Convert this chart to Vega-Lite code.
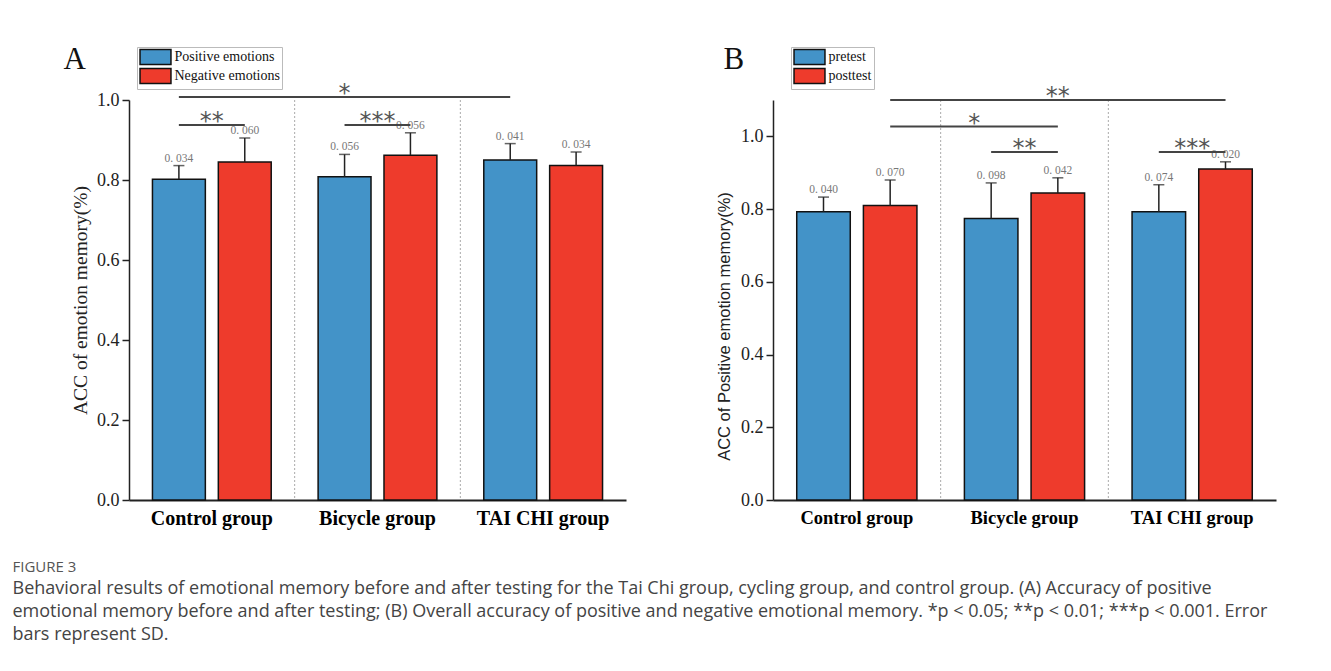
{
  "$schema": "https://vega.github.io/schema/vega-lite/v6.json",
  "background": "white",
  "padding": {"left": 12, "top": 43, "right": 5, "bottom": 5},
  "title": {
    "text": "FIGURE 3",
    "subtitle": [
      "Behavioral results of emotional memory before and after testing for the Tai Chi group, cycling group, and control group. (A) Accuracy of positive",
      "emotional memory before and after testing; (B) Overall accuracy of positive and negative emotional memory. *p < 0.05; **p < 0.01; ***p < 0.001. Error",
      "bars represent SD."
    ],
    "orient": "bottom",
    "anchor": "start",
    "frame": "bounds",
    "dx": -51,
    "offset": 32,
    "font": "Open Sans",
    "fontSize": 15,
    "fontWeight": "normal",
    "color": "#555",
    "subtitleFont": "Open Sans",
    "subtitleFontSize": 18,
    "subtitleColor": "#444",
    "subtitleLineHeight": 23,
    "subtitlePadding": 5
  },
  "datasets": {
    "a": [
      {"group": "Control group", "cond": "Positive emotions", "value": 0.802, "upper": 0.836, "sdLabel": "0. 034"},
      {"group": "Control group", "cond": "Negative emotions", "value": 0.845, "upper": 0.905, "sdLabel": "0. 060"},
      {"group": "Bicycle group", "cond": "Positive emotions", "value": 0.808, "upper": 0.864, "sdLabel": "0. 056"},
      {"group": "Bicycle group", "cond": "Negative emotions", "value": 0.862, "upper": 0.918, "sdLabel": "0. 056"},
      {"group": "TAI CHI group", "cond": "Positive emotions", "value": 0.850, "upper": 0.891, "sdLabel": "0. 041"},
      {"group": "TAI CHI group", "cond": "Negative emotions", "value": 0.836, "upper": 0.870, "sdLabel": "0. 034"}
    ],
    "b": [
      {"group": "Control group", "cond": "pretest", "value": 0.793, "upper": 0.833, "sdLabel": "0. 040"},
      {"group": "Control group", "cond": "posttest", "value": 0.810, "upper": 0.880, "sdLabel": "0. 070"},
      {"group": "Bicycle group", "cond": "pretest", "value": 0.774, "upper": 0.872, "sdLabel": "0. 098"},
      {"group": "Bicycle group", "cond": "posttest", "value": 0.844, "upper": 0.886, "sdLabel": "0. 042"},
      {"group": "TAI CHI group", "cond": "pretest", "value": 0.793, "upper": 0.867, "sdLabel": "0. 074"},
      {"group": "TAI CHI group", "cond": "posttest", "value": 0.910, "upper": 0.930, "sdLabel": "0. 020"}
    ],
    "sigA": [
      {"g1": "Control group", "c1": "P", "g2": "Control group", "c2": "N", "y": 0.9375, "star": "**", "tg": "Control group", "tpos": "mid"},
      {"g1": "Bicycle group", "c1": "P", "g2": "Bicycle group", "c2": "N", "y": 0.9375, "star": "***", "tg": "Bicycle group", "tpos": "mid"},
      {"g1": "Control group", "c1": "P", "g2": "TAI CHI group", "c2": "P", "y": 1.0075, "star": "*", "tg": "Bicycle group", "tpos": "P"}
    ],
    "sigB": [
      {"g1": "Control group", "c1": "N", "g2": "TAI CHI group", "c2": "N", "y": 1.1, "star": "**", "tg": "Bicycle group", "tpos": "N"},
      {"g1": "Control group", "c1": "N", "g2": "Bicycle group", "c2": "N", "y": 1.027, "star": "*", "tg": "Bicycle group", "tpos": "edge"},
      {"g1": "Bicycle group", "c1": "P", "g2": "Bicycle group", "c2": "N", "y": 0.957, "star": "**", "tg": "Bicycle group", "tpos": "mid"},
      {"g1": "TAI CHI group", "c1": "P", "g2": "TAI CHI group", "c2": "N", "y": 0.957, "star": "***", "tg": "TAI CHI group", "tpos": "mid"}
    ]
  },
  "spacing": 90,
  "resolve": {"scale": {"color": "independent", "x": "independent", "y": "independent", "xOffset": "independent"}},
  "hconcat": [
    {
      "width": 497,
      "height": 400,
      "title": {"text": "A", "anchor": "start", "frame": "bounds", "dx": -7, "font": "Liberation Serif", "fontSize": 31, "fontWeight": "normal", "color": "#111", "offset": -29},
      "layer": [
        {
          "data": {"name": "a"},
          "mark": {"type": "bar", "stroke": "#111", "strokeWidth": 1.5},
          "encoding": {
            "x": {"field": "group", "type": "nominal", "scale": {"domain": ["Control group", "Bicycle group", "TAI CHI group"], "paddingInner": 0, "paddingOuter": 0},
              "axis": {"title": null, "labelAngle": 0, "ticks": false, "labelFont": "Liberation Serif", "labelFontSize": 20, "labelFontWeight": "bold", "labelColor": "#000", "labelPadding": 8, "domainColor": "#222", "domainWidth": 2}},
            "xOffset": {"field": "cond", "type": "nominal", "scale": {"domain": ["Positive emotions", "Negative emotions"], "paddingInner": 0.197, "paddingOuter": 0.356}},
            "y": {"field": "value", "type": "quantitative", "stack": null, "scale": {"domain": [0, 1], "nice": false},
              "axis": {"title": "ACC of emotion memory(%)", "titleFont": "Liberation Serif", "titleFontSize": 19.5, "titleFontWeight": "normal", "titleColor": "#222", "titlePadding": 6,
                "values": [0, 0.1, 0.2, 0.3, 0.4, 0.5, 0.6, 0.7, 0.8, 0.9, 1.0], "labelExpr": "round(datum.value*10) % 2 == 0 ? format(datum.value, '.1f') : ''",
                "labelOverlap": false, "labelFont": "Liberation Serif", "labelFontSize": 18, "labelColor": "#222", "labelPadding": 3, "grid": false,
                "tickColor": "#222", "tickWidth": 1.5, "tickSize": {"condition": {"test": "round(datum.value*10) % 2 == 1", "value": 5}, "value": 7},
                "domainColor": "#222", "domainWidth": 1.5}},
            "color": {"field": "cond", "type": "nominal", "scale": {"domain": ["Positive emotions", "Negative emotions"], "range": ["#4393C8", "#EE3B2C"]},
              "legend": {"title": null, "orient": "none", "legendX": 8, "legendY": -53, "symbolType": "M-2.21,-1.07L2.21,-1.07L2.21,1.07L-2.21,1.07Z", "symbolSize": 196,
                "symbolStrokeColor": "#111", "symbolStrokeWidth": 1.5, "symbolOffset": 8.5, "labelOffset": 11, "labelFont": "Liberation Serif", "labelFontSize": 14, "labelColor": "#111",
                "strokeColor": "#bbb", "fillColor": "white", "padding": 2, "rowPadding": -4}}
          }
        },
        {
          "data": {"name": "a"},
          "mark": {"type": "rule", "color": "#222", "strokeWidth": 1.5},
          "encoding": {
            "x": {"field": "group", "type": "nominal", "scale": {"domain": ["Control group", "Bicycle group", "TAI CHI group"]}},
            "xOffset": {"field": "cond", "type": "nominal", "scale": {"domain": ["Positive emotions", "Negative emotions"]}},
            "y": {"field": "value", "type": "quantitative"},
            "y2": {"field": "upper"}
          }
        },
        {
          "data": {"name": "a"},
          "mark": {"type": "tick", "color": "#222", "thickness": 1.5, "size": 11},
          "encoding": {
            "x": {"field": "group", "type": "nominal", "scale": {"domain": ["Control group", "Bicycle group", "TAI CHI group"]}},
            "xOffset": {"field": "cond", "type": "nominal", "scale": {"domain": ["Positive emotions", "Negative emotions"]}},
            "y": {"field": "upper", "type": "quantitative"}
          }
        },
        {
          "data": {"name": "a"},
          "mark": {"type": "text", "font": "Liberation Serif", "fontSize": 11.5, "color": "#777", "baseline": "bottom", "dy": -2},
          "encoding": {
            "x": {"field": "group", "type": "nominal", "scale": {"domain": ["Control group", "Bicycle group", "TAI CHI group"]}},
            "xOffset": {"field": "cond", "type": "nominal", "scale": {"domain": ["Positive emotions", "Negative emotions"]}},
            "y": {"field": "upper", "type": "quantitative"},
            "text": {"field": "sdLabel"}
          }
        },
        {
          "data": {"name": "a"},
          "transform": [{"filter": "datum.cond == 'Positive emotions' && datum.group != 'TAI CHI group'"}],
          "mark": {"type": "rule", "color": "#aaa", "strokeDash": [2, 2], "strokeWidth": 1},
          "encoding": {
            "x": {"field": "group", "type": "nominal", "bandPosition": 1, "scale": {"domain": ["Control group", "Bicycle group", "TAI CHI group"]}}
          }
        },
        {
          "data": {"name": "sigA"},
          "transform": [{"filter": "datum.c1 == 'P' && datum.c2 == 'N'"}],
          "mark": {"type": "rule", "color": "#444", "strokeWidth": 2},
          "encoding": {
            "x": {"field": "g1", "type": "nominal", "bandPosition": 0.301, "scale": {"domain": ["Control group", "Bicycle group", "TAI CHI group"]}},
            "x2": {"field": "g2", "bandPosition": 0.699},
            "y": {"field": "y", "type": "quantitative"}
          }
        },
        {
          "data": {"name": "sigA"},
          "transform": [{"filter": "datum.c1 == 'P' && datum.c2 == 'P'"}],
          "mark": {"type": "rule", "color": "#444", "strokeWidth": 2},
          "encoding": {
            "x": {"field": "g1", "type": "nominal", "bandPosition": 0.301, "scale": {"domain": ["Control group", "Bicycle group", "TAI CHI group"]}},
            "x2": {"field": "g2", "bandPosition": 0.301},
            "y": {"field": "y", "type": "quantitative"}
          }
        },
        {
          "data": {"name": "sigA"},
          "transform": [{"filter": "datum.tpos == 'mid'"}],
          "mark": {"type": "text", "font": "DejaVu Sans", "fontSize": 24, "color": "#555", "baseline": "alphabetic", "dy": 4},
          "encoding": {
            "x": {"field": "tg", "type": "nominal", "bandPosition": 0.5, "scale": {"domain": ["Control group", "Bicycle group", "TAI CHI group"]}},
            "y": {"field": "y", "type": "quantitative"},
            "text": {"field": "star"}
          }
        },
        {
          "data": {"name": "sigA"},
          "transform": [{"filter": "datum.tpos == 'P'"}],
          "mark": {"type": "text", "font": "DejaVu Sans", "fontSize": 24, "color": "#555", "baseline": "alphabetic", "dy": 4},
          "encoding": {
            "x": {"field": "tg", "type": "nominal", "bandPosition": 0.301, "scale": {"domain": ["Control group", "Bicycle group", "TAI CHI group"]}},
            "y": {"field": "y", "type": "quantitative"},
            "text": {"field": "star"}
          }
        }
      ]
    },
    {
      "width": 503,
      "height": 400,
      "title": {"text": "B", "anchor": "start", "frame": "bounds", "dx": 7, "font": "Liberation Serif", "fontSize": 31, "fontWeight": "normal", "color": "#111", "offset": -29},
      "layer": [
        {
          "data": {"name": "b"},
          "mark": {"type": "bar", "stroke": "#111", "strokeWidth": 1.5},
          "encoding": {
            "x": {"field": "group", "type": "nominal", "scale": {"domain": ["Control group", "Bicycle group", "TAI CHI group"], "paddingInner": 0, "paddingOuter": 0},
              "axis": {"title": null, "labelAngle": 0, "ticks": false, "labelFont": "Liberation Serif", "labelFontSize": 18.5, "labelFontWeight": "bold", "labelColor": "#000", "labelPadding": 8, "domainColor": "#222", "domainWidth": 2}},
            "xOffset": {"field": "cond", "type": "nominal", "scale": {"domain": ["pretest", "posttest"], "paddingInner": 0.197, "paddingOuter": 0.356}},
            "y": {"field": "value", "type": "quantitative", "stack": null, "scale": {"domain": [0, 1.1], "nice": false},
              "axis": {"title": "ACC of  Positive emotion memory(%)", "titleFont": "Liberation Sans", "titleFontSize": 16.5, "titleFontWeight": "normal", "titleColor": "#222", "titlePadding": 8, "titleY": 226,
                "values": [0, 0.1, 0.2, 0.3, 0.4, 0.5, 0.6, 0.7, 0.8, 0.9, 1.0, 1.1], "labelExpr": "round(datum.value*10) % 2 == 0 ? format(datum.value, '.1f') : ''",
                "labelOverlap": false, "labelFont": "Liberation Serif", "labelFontSize": 18, "labelColor": "#222", "labelPadding": 3, "grid": false,
                "tickColor": "#222", "tickWidth": 1.5, "tickSize": {"condition": {"test": "round(datum.value*10) % 2 == 1", "value": 5}, "value": 7},
                "domainColor": "#222", "domainWidth": 1.5}},
            "color": {"field": "cond", "type": "nominal", "scale": {"domain": ["pretest", "posttest"], "range": ["#4393C8", "#EE3B2C"]},
              "legend": {"title": null, "orient": "none", "legendX": 18, "legendY": -53, "symbolType": "M-2.21,-1.07L2.21,-1.07L2.21,1.07L-2.21,1.07Z", "symbolSize": 196,
                "symbolStrokeColor": "#111", "symbolStrokeWidth": 1.5, "symbolOffset": 8.5, "labelOffset": 11, "labelFont": "Liberation Serif", "labelFontSize": 14, "labelColor": "#111",
                "strokeColor": "#bbb", "fillColor": "white", "padding": 2, "rowPadding": -4}}
          }
        },
        {
          "data": {"name": "b"},
          "mark": {"type": "rule", "color": "#222", "strokeWidth": 1.5},
          "encoding": {
            "x": {"field": "group", "type": "nominal", "scale": {"domain": ["Control group", "Bicycle group", "TAI CHI group"]}},
            "xOffset": {"field": "cond", "type": "nominal", "scale": {"domain": ["pretest", "posttest"]}},
            "y": {"field": "value", "type": "quantitative"},
            "y2": {"field": "upper"}
          }
        },
        {
          "data": {"name": "b"},
          "mark": {"type": "tick", "color": "#222", "thickness": 1.5, "size": 11},
          "encoding": {
            "x": {"field": "group", "type": "nominal", "scale": {"domain": ["Control group", "Bicycle group", "TAI CHI group"]}},
            "xOffset": {"field": "cond", "type": "nominal", "scale": {"domain": ["pretest", "posttest"]}},
            "y": {"field": "upper", "type": "quantitative"}
          }
        },
        {
          "data": {"name": "b"},
          "mark": {"type": "text", "font": "Liberation Serif", "fontSize": 11.5, "color": "#777", "baseline": "bottom", "dy": -2},
          "encoding": {
            "x": {"field": "group", "type": "nominal", "scale": {"domain": ["Control group", "Bicycle group", "TAI CHI group"]}},
            "xOffset": {"field": "cond", "type": "nominal", "scale": {"domain": ["pretest", "posttest"]}},
            "y": {"field": "upper", "type": "quantitative"},
            "text": {"field": "sdLabel"}
          }
        },
        {
          "data": {"name": "b"},
          "transform": [{"filter": "datum.cond == 'pretest' && datum.group != 'TAI CHI group'"}],
          "mark": {"type": "rule", "color": "#aaa", "strokeDash": [2, 2], "strokeWidth": 1},
          "encoding": {
            "x": {"field": "group", "type": "nominal", "bandPosition": 1, "scale": {"domain": ["Control group", "Bicycle group", "TAI CHI group"]}}
          }
        },
        {
          "data": {"name": "sigB"},
          "transform": [{"filter": "datum.c1 == 'P' && datum.c2 == 'N'"}],
          "mark": {"type": "rule", "color": "#444", "strokeWidth": 2},
          "encoding": {
            "x": {"field": "g1", "type": "nominal", "bandPosition": 0.301, "scale": {"domain": ["Control group", "Bicycle group", "TAI CHI group"]}},
            "x2": {"field": "g2", "bandPosition": 0.699},
            "y": {"field": "y", "type": "quantitative"}
          }
        },
        {
          "data": {"name": "sigB"},
          "transform": [{"filter": "datum.c1 == 'N' && datum.c2 == 'N'"}],
          "mark": {"type": "rule", "color": "#444", "strokeWidth": 2},
          "encoding": {
            "x": {"field": "g1", "type": "nominal", "bandPosition": 0.699, "scale": {"domain": ["Control group", "Bicycle group", "TAI CHI group"]}},
            "x2": {"field": "g2", "bandPosition": 0.699},
            "y": {"field": "y", "type": "quantitative"}
          }
        },
        {
          "data": {"name": "sigB"},
          "transform": [{"filter": "datum.tpos == 'mid'"}],
          "mark": {"type": "text", "font": "DejaVu Sans", "fontSize": 24, "color": "#555", "baseline": "alphabetic", "dy": 4},
          "encoding": {
            "x": {"field": "tg", "type": "nominal", "bandPosition": 0.5, "scale": {"domain": ["Control group", "Bicycle group", "TAI CHI group"]}},
            "y": {"field": "y", "type": "quantitative"},
            "text": {"field": "star"}
          }
        },
        {
          "data": {"name": "sigB"},
          "transform": [{"filter": "datum.tpos == 'N'"}],
          "mark": {"type": "text", "font": "DejaVu Sans", "fontSize": 24, "color": "#555", "baseline": "alphabetic", "dy": 4},
          "encoding": {
            "x": {"field": "tg", "type": "nominal", "bandPosition": 0.699, "scale": {"domain": ["Control group", "Bicycle group", "TAI CHI group"]}},
            "y": {"field": "y", "type": "quantitative"},
            "text": {"field": "star"}
          }
        },
        {
          "data": {"name": "sigB"},
          "transform": [{"filter": "datum.tpos == 'edge'"}],
          "mark": {"type": "text", "font": "DejaVu Sans", "fontSize": 24, "color": "#555", "baseline": "alphabetic", "dy": 4},
          "encoding": {
            "x": {"field": "tg", "type": "nominal", "bandPosition": 0.2, "scale": {"domain": ["Control group", "Bicycle group", "TAI CHI group"]}},
            "y": {"field": "y", "type": "quantitative"},
            "text": {"field": "star"}
          }
        }
      ]
    }
  ],
  "config": {"view": {"stroke": null}}
}
